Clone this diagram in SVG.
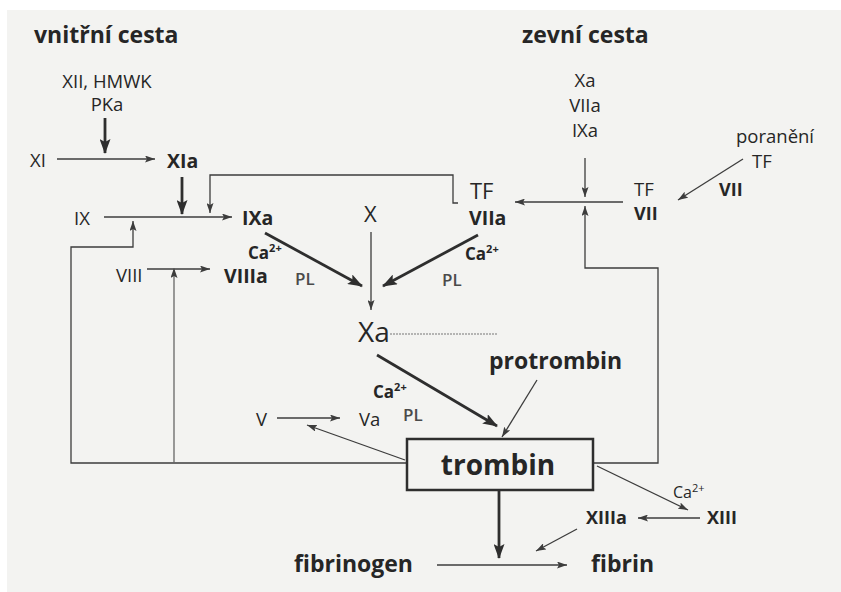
<svg xmlns="http://www.w3.org/2000/svg" width="841" height="592" viewBox="0 0 841 592">
<defs>
<style>
text{font-family:"Open Sans","Liberation Sans",sans-serif;fill:#262626}
.t{font-size:18.5px}
.b{font-size:19.5px;font-weight:700}
.s{font-size:18px;font-weight:700}
.h{font-size:23px;font-weight:700}
.ca{font-size:17px;font-weight:700}
.pl{font-size:17px;font-weight:600;fill:#4a4a4a}
.thick{stroke:#2e2e2e;stroke-width:2.8;fill:none;marker-end:url(#ah)}
.thin{stroke:#3c3c3c;stroke-width:1.3;fill:none;marker-end:url(#as)}
.dot{stroke:#777;stroke-width:1.2;fill:none;stroke-dasharray:2 1}
</style>
<marker id="ah" markerUnits="userSpaceOnUse" markerWidth="15" markerHeight="11" refX="14" refY="5.5" orient="auto"><path d="M0,0 L15,5.5 L0,11 L3,5.5z" fill="#2e2e2e"/></marker>
<marker id="as" markerUnits="userSpaceOnUse" markerWidth="10" markerHeight="7" refX="10" refY="3.5" orient="auto"><path d="M0,0 L10,3.5 L0,7 L2,3.5z" fill="#3c3c3c"/></marker>
</defs>
<rect width="841" height="592" fill="#fff"/>
<rect x="7" y="10" width="834" height="582" fill="#f3f3f1"/>

<g id="connectors">
<line class="thick" x1="105" y1="118" x2="105" y2="153"/>
<line class="thick" x1="182" y1="177" x2="182" y2="214"/>
<line class="thick" x1="265" y1="233" x2="362" y2="286"/>
<line class="thick" x1="478" y1="235" x2="383" y2="286"/>
<line class="thick" x1="377" y1="355" x2="497" y2="426"/>
<line class="thick" x1="499" y1="491" x2="499" y2="558"/>
<line class="thin" x1="57" y1="159" x2="155" y2="159"/>
<line class="thin" x1="104" y1="217" x2="232" y2="217"/>
<line class="thin" x1="147" y1="269" x2="210" y2="269"/>
<polyline class="thin" points="458,203 453,203 453,175 210,175 210,213"/>
<polyline class="thin" points="407,463 71,463 71,247 133,247 133,221"/>
<line class="thin" style="stroke:#666" x1="174" y1="463" x2="174" y2="268"/>
<line class="thin" x1="371" y1="232" x2="371" y2="310"/>
<line class="dot" x1="390" y1="334" x2="498" y2="334"/>
<line class="thin" x1="623" y1="202" x2="515" y2="202"/>
<line class="thin" x1="585" y1="158" x2="585" y2="197"/>
<polyline class="thin" points="593,463 658,463 658,268 585,268 585,206"/>
<line class="thin" x1="743" y1="159" x2="678" y2="200"/>
<line class="thin" x1="537" y1="380" x2="502" y2="437"/>
<line class="thin" x1="405" y1="460" x2="307" y2="425"/>
<line class="thin" x1="277" y1="418" x2="340" y2="418"/>
<line class="thin" x1="597" y1="466" x2="688" y2="510"/>
<line class="thin" x1="700" y1="518" x2="638" y2="518"/>
<line class="thin" x1="577" y1="529" x2="536" y2="551"/>
<line class="thin" x1="437" y1="565" x2="567" y2="565"/>
</g>

<g id="title-intrinsic"><text class="h" x="34" y="43">vnitřní cesta</text></g>
<g id="title-extrinsic"><text class="h" x="522" y="43">zevní cesta</text></g>
<g id="xii"><text class="t" x="107" y="88" text-anchor="middle">XII, HMWK</text><text class="t" x="107" y="111" text-anchor="middle">PKa</text></g>
<g id="xi"><text class="t" x="30" y="167">XI</text></g>
<g id="xia"><text class="b" x="167" y="168">XIa</text></g>
<g id="ix"><text class="t" x="74" y="225">IX</text></g>
<g id="ixa"><text class="b" x="242" y="225">IXa</text></g>
<g id="viii"><text class="t" x="116" y="282">VIII</text></g>
<g id="viiia"><text class="b" x="224" y="283">VIIIa</text></g>
<g id="cofactor-left"><text class="ca" x="248" y="259">Ca<tspan font-size="11" dy="-7">2+</tspan></text><text class="pl" x="295" y="285">PL</text></g>
<g id="x"><text x="364" y="222" font-size="22">X</text></g>
<g id="viia"><text x="470" y="199" font-size="22">TF</text><text class="b" x="469" y="225">VIIa</text></g>
<g id="cofactor-right"><text class="ca" x="465" y="260">Ca<tspan font-size="11" dy="-7">2+</tspan></text><text class="pl" x="442" y="286">PL</text></g>
<g id="xa"><text x="358" y="342" font-size="28">Xa</text></g>
<g id="activators"><text class="t" x="585" y="87" text-anchor="middle">Xa</text><text class="t" x="585" y="112" text-anchor="middle">VIIa</text><text class="t" x="585" y="137" text-anchor="middle">IXa</text></g>
<g id="injury"><text class="t" x="736" y="143">poranění</text><text class="t" x="752" y="168">TF</text><text class="s" x="719" y="196">VII</text></g>
<g id="tf-vii"><text class="t" x="634" y="196">TF</text><text class="s" x="634" y="220">VII</text></g>
<g id="protrombin"><text class="h" x="489" y="369">protrombin</text></g>
<g id="cofactor-bottom"><text class="ca" x="373" y="398">Ca<tspan font-size="11" dy="-7">2+</tspan></text><text class="pl" x="403" y="421">PL</text></g>
<g id="v"><text class="t" x="256" y="426">V</text></g>
<g id="va"><text class="t" x="359" y="426">Va</text></g>
<g id="trombin"><rect x="407" y="439" width="186" height="51" fill="none" stroke="#2e2e2e" stroke-width="2.5"/><text x="498" y="475" text-anchor="middle" font-size="28" font-weight="700">trombin</text></g>
<g id="fibrinogen"><text class="h" x="294" y="572">fibrinogen</text></g>
<g id="fibrin"><text class="h" x="591" y="572">fibrin</text></g>
<g id="xiiia"><text class="s" x="586" y="524">XIIIa</text></g>
<g id="xiii"><text class="s" x="707" y="524">XIII</text><text x="673" y="498" font-size="16">Ca<tspan font-size="11" dy="-6">2+</tspan></text></g>
</svg>
